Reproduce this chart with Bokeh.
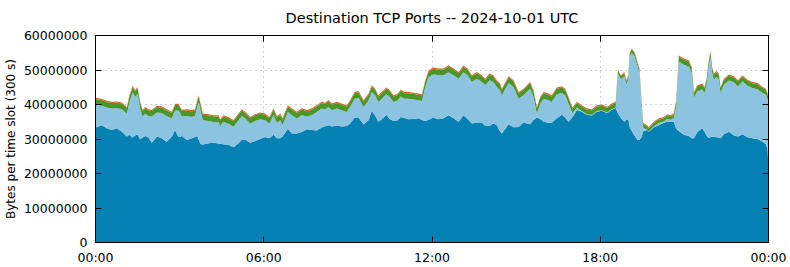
from bokeh.plotting import figure
from bokeh.models import (ColumnDataSource, Range1d, FixedTicker, LinearAxis, Title)
from bokeh.embed import file_html
from bokeh.resources import INLINE

# ---- data (values in millions of bytes per 300 s slot) ----
hours = [0.00, 0.05, 0.23, 0.40, 0.58, 0.76, 0.94, 1.12, 1.21, 1.33, 1.41, 1.50, 1.59, 1.68, 1.77, 1.89,
         2.01, 2.19, 2.36, 2.54, 2.72, 2.84, 2.96, 3.08, 3.26, 3.43, 3.55, 3.63, 3.68, 3.76, 3.83,
         4.03, 4.21, 4.39, 4.45, 4.56, 4.74, 4.92, 5.10, 5.22, 5.34, 5.52, 5.69, 5.87,
         6.05, 6.20, 6.35, 6.47, 6.59, 6.67, 6.86, 7.00, 7.18, 7.36, 7.54, 7.72, 7.89,
         8.07, 8.19, 8.31, 8.43, 8.61, 8.78, 8.96, 9.08, 9.24, 9.38, 9.56, 9.74, 9.85, 9.97,
         10.09, 10.21, 10.37, 10.48, 10.63, 10.75, 10.89, 11.01, 11.16, 11.34, 11.52, 11.64, 11.76, 11.88,
         12.05, 12.23, 12.41, 12.59, 12.77, 12.95, 13.12, 13.27, 13.42, 13.60, 13.78, 13.90,
         14.05, 14.19, 14.31, 14.43, 14.49, 14.73, 14.91, 15.09, 15.26, 15.50, 15.62, 15.74, 15.86, 15.98,
         16.16, 16.27, 16.45, 16.63, 16.75, 16.87, 17.01, 17.17, 17.34, 17.52, 17.70, 17.88,
         18.06, 18.24, 18.41, 18.55, 18.63, 18.74, 18.86, 18.93, 19.00, 19.05, 19.12, 19.22, 19.33, 19.40, 19.47,
         19.53, 19.67, 19.73, 19.91, 20.09, 20.27, 20.39, 20.50, 20.62, 20.71, 20.80, 20.98,
         21.16, 21.26, 21.34, 21.46, 21.64, 21.72, 21.79, 21.87, 21.93, 21.99, 22.05, 22.15, 22.23, 22.29,
         22.41, 22.59, 22.77, 22.91, 23.07, 23.25, 23.43, 23.61, 23.79, 23.91, 23.97, 24.00]

dark_blue = [33.3, 33.5, 34.0, 33.1, 32.6, 33.1, 32.1, 30.7, 31.2, 30.4, 31.0, 31.3, 29.9, 30.4, 30.9, 30.4,
             28.9, 30.7, 30.2, 29.2, 30.7, 32.6, 30.5, 30.9, 29.7, 30.2, 30.6, 30.9, 29.8, 28.5, 28.4,
             28.8, 28.9, 28.7, 28.6, 28.5, 28.3, 27.6, 28.8, 29.8, 29.8, 28.9, 29.4, 30.0,
             30.6, 30.2, 31.2, 30.2, 30.2, 30.7, 33.0, 31.6, 31.6, 32.0, 32.8, 32.6, 32.5,
             33.3, 33.7, 34.0, 33.6, 33.9, 33.6, 33.8, 34.5, 36.2, 36.2, 34.2, 35.5, 38.1, 36.9,
             35.0, 35.7, 37.0, 35.9, 35.2, 35.3, 36.4, 36.1, 35.7, 35.8, 36.0, 35.5, 35.2, 35.6,
             36.2, 35.7, 36.0, 36.9, 36.0, 35.0, 36.9, 35.8, 34.5, 34.8, 34.8, 33.8,
             33.8, 34.6, 34.0, 32.2, 31.6, 34.3, 33.4, 33.5, 34.8, 34.3, 35.5, 36.2, 35.8, 35.0,
             34.7, 34.7, 36.0, 37.0, 36.2, 35.0, 36.4, 38.4, 37.9, 37.0, 36.8, 37.9,
             38.2, 37.5, 38.5, 39.0, 37.5, 36.0, 35.0, 35.5, 35.8, 33.5, 32.4, 31.0, 29.7, 29.7, 30.5,
             32.2, 32.6, 32.1, 33.4, 34.0, 34.7, 35.0, 35.0, 35.0, 33.0, 32.3, 31.2,
             30.9, 30.2, 30.2, 32.0, 33.1, 32.1, 31.0, 30.3, 30.5, 30.7, 30.6, 30.5, 30.4, 30.2,
             31.4, 32.1, 31.0, 30.7, 31.4, 30.5, 30.2, 30.0, 29.2, 28.5, 26.8, 20.0]

light_blue = [6.55, 6.45, 5.65, 6.05, 6.25, 5.85, 6.55, 6.65, 9.55, 13.15, 11.15, 11.85, 8.95, 6.05, 6.45, 6.25,
              7.65, 6.95, 7.35, 7.45, 5.25, 5.65, 7.75, 5.65, 6.95, 6.25, 6.05, 8.45, 10.95, 9.35, 7.05,
              6.45, 6.05, 6.25, 5.15, 6.45, 6.15, 5.95, 6.65, 6.85, 6.15, 5.55, 5.85, 5.75,
              4.85, 4.25, 5.75, 4.45, 5.25, 3.35, 4.85, 5.35, 4.35, 4.95, 3.65, 4.35, 5.35,
              5.55, 4.85, 5.35, 4.75, 4.95, 4.75, 4.05, 4.85, 5.45, 5.75, 5.05, 5.75, 5.55, 5.75,
              5.75, 5.95, 5.95, 6.45, 5.55, 5.75, 5.95, 5.55, 5.95, 5.65, 5.25, 5.55, 9.85, 12.35,
              12.55, 12.75, 12.45, 12.45, 12.45, 12.45, 12.45, 12.65, 12.05, 12.65, 11.75, 11.75,
              13.25, 11.95, 11.05, 11.95, 11.05, 11.95, 11.65, 8.15, 7.85, 10.25, 6.65, 1.15, 4.45, 6.65,
              6.55, 6.05, 6.95, 6.35, 6.45, 5.25, 1.05, 0.75, 0.25, 0.25, 0.15, 0.25,
              0.15, 0.15, 0.15, 0.15, 11.4, 11.3, 13.2, 10.3, 11.5, 20.3, 22.6, 23.0, 21.4, 19.5, 9.6,
              1.15, 0.05, 0.05, 0.25, 0.65, 0.35, 0.85, 0.55, 1.05, 6.55, 20.15, 20.35,
              20.15, 18.95, 11.65, 11.85, 11.25, 11.25, 14.75, 20.75, 23.25, 18.45, 16.65, 17.45, 16.85, 13.15,
              14.35, 14.85, 15.45, 14.55, 15.35, 14.95, 14.55, 14.45, 14.15, 14.35, 14.65, 20.25]

green = ([1.6] * 117) + ([1.3] * 10) + ([0.9] * 11) + ([1.0] * 9) + ([1.4] * 29)
orange = ([0.35] * 127) + ([0.3] * 11) + ([0.35] * 38)

x_tick_values = [0, 6, 12, 18, 24]
x_tick_labels = ["00:00", "06:00", "12:00", "18:00", "00:00"]
y_tick_values = [0, 10e6, 20e6, 30e6, 40e6, 50e6, 60e6]
y_tick_labels = ["0", "10000000", "20000000", "30000000", "40000000", "50000000", "60000000"]

title_text = "Destination TCP Ports -- 2024-10-01 UTC"
y_label = "Bytes per time slot (300 s)"

layer_names = ["dark_blue", "light_blue", "green", "orange"]
layer_colors = ["#0581b3", "#8cc3e1", "#4a9628", "#d2641e"]

source = ColumnDataSource(dict(
    hours=hours,
    dark_blue=[v * 1e6 for v in dark_blue],
    light_blue=[v * 1e6 for v in light_blue],
    green=[v * 1e6 for v in green],
    orange=[v * 1e6 for v in orange],
))

FONT = "DejaVu Sans"

p = figure(width=790, height=267, output_backend="svg", toolbar_location=None,
           x_range=Range1d(x_tick_values[0], x_tick_values[-1]),
           y_range=Range1d(y_tick_values[0], y_tick_values[-1]),
           min_border_left=95, min_border_right=22, min_border_top=35, min_border_bottom=24)
p.title = Title(text=title_text, align="center", vertical_align="top", text_font=FONT,
                text_font_size="14.5px", text_font_style="normal", text_color="black",
                offset=0, standoff=15)
p.background_fill_color = "white"
p.border_fill_color = "white"
p.outline_line_color = "black"
p.outline_line_width = 1

p.varea_stack(stackers=layer_names, x="hours", color=layer_colors, source=source)

def style_axis(ax, ticks, labels, show_labels=True):
    ax.ticker = FixedTicker(ticks=ticks)
    ax.major_label_overrides = {t: (l if show_labels else "") for t, l in zip(ticks, labels)}
    ax.major_tick_in = 6
    ax.major_tick_out = 0
    ax.minor_tick_line_color = None
    ax.axis_line_color = "black"
    ax.major_tick_line_color = "black"
    ax.major_label_text_font = FONT
    ax.major_label_text_font_size = "12.5px" if show_labels else "0px"
    ax.major_label_text_color = "black"

style_axis(p.xaxis[0], x_tick_values, x_tick_labels)
p.xaxis[0].major_label_standoff = 7
style_axis(p.yaxis[0], y_tick_values, y_tick_labels)
p.yaxis[0].major_label_standoff = 8
p.yaxis[0].axis_label = y_label
p.yaxis[0].axis_label_text_font = FONT
p.yaxis[0].axis_label_text_font_size = "12px"
p.yaxis[0].axis_label_text_font_style = "normal"
p.yaxis[0].axis_label_text_color = "black"
p.yaxis[0].axis_label_standoff = 3

top_axis = LinearAxis()
style_axis(top_axis, x_tick_values, x_tick_labels, show_labels=False)
top_axis.major_label_standoff = 0
p.add_layout(top_axis, "above")
right_axis = LinearAxis()
style_axis(right_axis, y_tick_values, y_tick_labels, show_labels=False)
right_axis.major_label_standoff = 0
p.add_layout(right_axis, "right")

p.xgrid.ticker = FixedTicker(ticks=x_tick_values)
p.ygrid.ticker = FixedTicker(ticks=y_tick_values)
for g in (p.xgrid[0], p.ygrid[0]):
    g.grid_line_color = "#a0a0a0"
    g.grid_line_dash = "1 4"
    g.grid_line_width = 1

open("out.html", "w").write(file_html(p, INLINE))
